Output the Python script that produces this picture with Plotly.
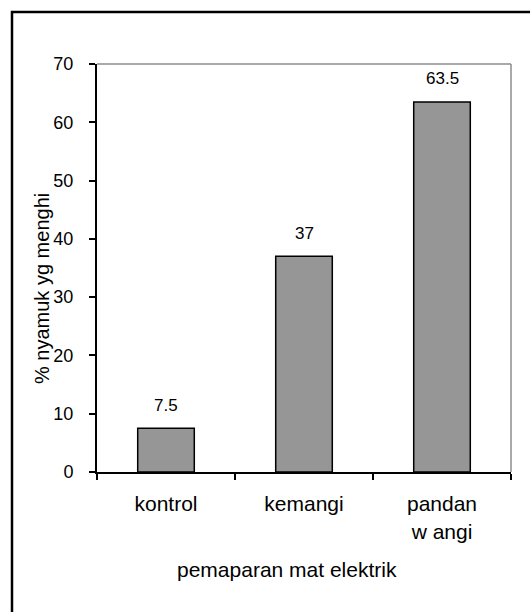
import plotly.graph_objects as go

categories = ["kontrol", "kemangi", "pandan<br>w angi"]
values = [7.5, 37, 63.5]
value_labels = ["7.5", "37", "63.5"]
y_ticks = [0, 10, 20, 30, 40, 50, 60, 70]
y_title = "% nyamuk yg menghi"
x_title = "pemaparan mat elektrik"

W, H = 530, 612
L, R, T, B = 97, 511, 64, 472
pw, ph = R - L, B - T

def px(x):
    return (x - L) / pw

def py(y):
    return (B - y) / ph

FONT = "Liberation Sans, Arial, sans-serif"

fig = go.Figure()
fig.add_trace(go.Bar(
    x=categories, y=values,
    marker=dict(color="#969696", line=dict(color="black", width=1.5)),
    hoverinfo="skip",
))

annotations = []
for c, v, t in zip(categories, values, value_labels):
    annotations.append(dict(x=c, y=v, xref="x", yref="y", text=t, showarrow=False,
                            yshift=23, yanchor="middle",
                            font=dict(family=FONT, size=17, color="black")))
annotations.append(dict(x=px(42), y=py(289), xref="paper", yref="paper", text=y_title,
                        textangle=-90, showarrow=False, xanchor="center", yanchor="middle",
                        font=dict(family=FONT, size=20, color="black")))
annotations.append(dict(x=px(287), y=py(569), xref="paper", yref="paper", text=x_title,
                        showarrow=False, xanchor="center", yanchor="middle",
                        font=dict(family=FONT, size=21, color="black")))

shapes = [
    # outer chart border (extends beyond crop on right and bottom)
    dict(type="rect", xref="paper", yref="paper", x0=px(12), y0=py(640), x1=px(560), y1=py(12),
         line=dict(color="black", width=2.5), fillcolor="rgba(0,0,0,0)", layer="below"),
    # gray plot area border top/right
    dict(type="line", xref="paper", yref="paper", x0=0, y0=1, x1=1, y1=1,
         line=dict(color="#8c8c8c", width=1.5)),
    dict(type="line", xref="paper", yref="paper", x0=1, y0=0, x1=1, y1=1,
         line=dict(color="#8c8c8c", width=1.5)),
]

fig.update_layout(
    width=W, height=H,
    margin=dict(l=L, r=W - R, t=T, b=H - B, pad=0),
    paper_bgcolor="white", plot_bgcolor="white",
    showlegend=False,
    bargap=0.59,
    annotations=annotations,
    shapes=shapes,
    font=dict(family=FONT, color="black"),
)
fig.update_xaxes(
    showline=True, linecolor="black", linewidth=2,
    ticks="outside", tickson="boundaries", ticklen=6, tickwidth=1.5, tickcolor="black",
    tickfont=dict(family=FONT, size=21, color="black"),
    ticklabelstandoff=12,
    showgrid=False, zeroline=False,
)
fig.update_yaxes(
    range=[0, 70], tickvals=y_ticks, ticktext=[str(v) for v in y_ticks],
    showline=True, linecolor="black", linewidth=2,
    ticks="outside", ticklen=6, tickwidth=1.5, tickcolor="black",
    tickfont=dict(family=FONT, size=18, color="black"),
    ticklabelstandoff=12,
    showgrid=False, zeroline=False,
)

fig.write_html("out.html")
